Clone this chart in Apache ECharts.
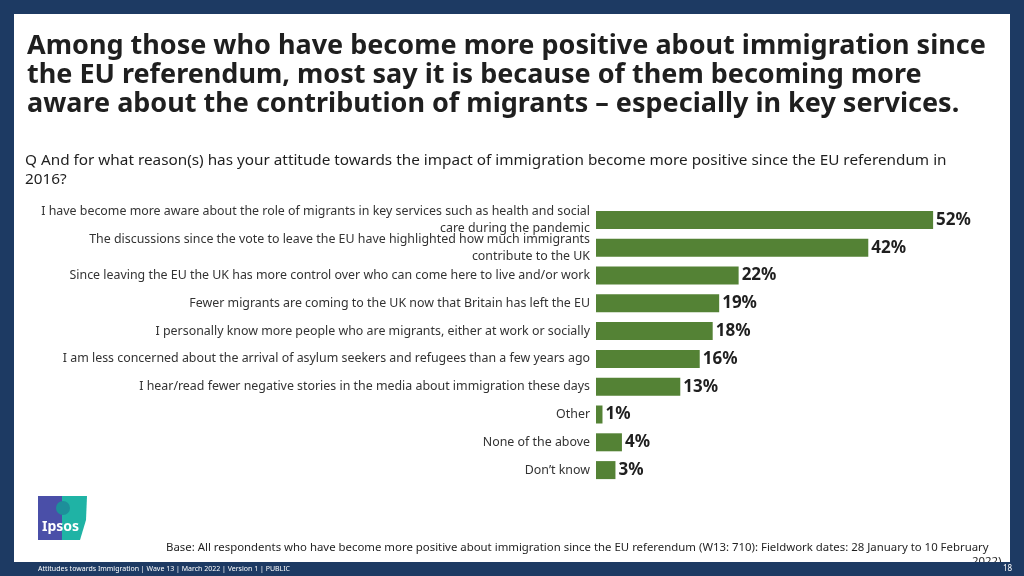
<!DOCTYPE html>
<html><head><meta charset="utf-8">
<script src="https://cdn.jsdelivr.net/npm/echarts@6/dist/echarts.min.js"></script>
<style>html,body{margin:0;padding:0;background:#1d3a63}#c{width:1024px;height:576px}</style>
</head><body><div id="c"></div>
<script>
// reasons, top to bottom
var categories = [
  'I have become more aware about the role of migrants in key services such as health and social\ncare during the pandemic',
  'The discussions since the vote to leave the EU have highlighted how much immigrants\ncontribute to the UK',
  'Since leaving the EU the UK has more control over who can come here to live and/or work',
  'Fewer migrants are coming to the UK now that Britain has left the EU',
  'I personally know more people who are migrants, either at work or socially',
  'I am less concerned about the arrival of asylum seekers and refugees than a few years ago',
  'I hear/read fewer negative stories in the media about immigration these days',
  'Other',
  'None of the above',
  'Don\u2019t know'
];
var values = [52, 42, 22, 19, 18, 16, 13, 1, 4, 3];

var font = '"Noto Sans", "Open Sans", sans-serif';
var chart = echarts.init(document.getElementById('c'));
var option = {
  backgroundColor: '#1d3a63',
  textStyle: { fontFamily: font },
  graphic: [
    { type: 'rect', shape: { x: 14, y: 14, width: 996, height: 548 }, style: { fill: '#ffffff' } },
    { type: 'text', left: 27, top: 32, style: {
        text: 'Among those who have become more positive about immigration since\nthe EU referendum, most say it is because of them becoming more\naware about the contribution of migrants \u2013 especially in key services.',
        font: 'bold 27px ' + font, fill: '#1f1f1f', lineHeight: 29 } },
    { type: 'text', left: 25, top: 151, style: {
        text: 'Q And for what reason(s) has your attitude towards the impact of immigration become more positive since the EU referendum in\n2016?',
        font: '15.3px ' + font, fill: '#1f1f1f', lineHeight: 19 } },
    { type: 'text', left: 166, top: 542, style: {
        text: 'Base: All respondents who have become more positive about immigration since the EU referendum (W13: 710): Fieldwork dates: 28 January to 10 February',
        font: '11.4px ' + font, fill: '#1f1f1f' } },
    { type: 'text', left: 972, top: 556, style: { text: '2022)', font: '11.4px ' + font, fill: '#1f1f1f' } },
    { type: 'rect', shape: { x: 0, y: 562, width: 1024, height: 14 }, style: { fill: '#1d3a63' } },
    { type: 'text', left: 38, top: 565, style: {
        text: 'Attitudes towards Immigration | Wave 13 | March 2022 | Version 1 | PUBLIC',
        font: '7px ' + font, fill: '#ffffff' } },
    { type: 'text', left: 1003, top: 565, style: { text: '18', font: '8px ' + font, fill: '#ffffff' } },
    // Ipsos logo
    { type: 'rect', shape: { x: 38, y: 496, width: 24, height: 44 }, style: { fill: '#4a4fa8' } },
    { type: 'polygon', shape: { points: [[62, 496], [87, 496], [86, 520], [80, 540], [62, 540]] }, style: { fill: '#1fb3a5' } },
    { type: 'circle', shape: { cx: 63, cy: 508, r: 7 }, style: { fill: '#1d8f9a' } },
    { type: 'text', left: 42, top: 520, style: { text: 'Ipsos', font: 'bold 14px ' + font, fill: '#ffffff' } }
  ],
  grid: { left: 596, right: 28, top: 206, bottom: 92 },
  xAxis: { type: 'value', min: 0, max: 61.7, show: false },
  yAxis: {
    type: 'category', inverse: true, data: categories,
    axisLine: { show: false }, axisTick: { show: false },
    axisLabel: { interval: 0, color: '#333', fontSize: 12.4, fontFamily: font, margin: 6, lineHeight: 17, align: 'right' }
  },
  series: [{
    type: 'bar', data: values, barWidth: 18,
    itemStyle: { color: '#548235' },
    label: { show: true, position: 'right', distance: 3, formatter: '{c}%',
      fontSize: 17, fontWeight: 'bold', color: '#1f1f1f', fontFamily: font }
  }]
};
chart.setOption(option);
</script></body></html>
